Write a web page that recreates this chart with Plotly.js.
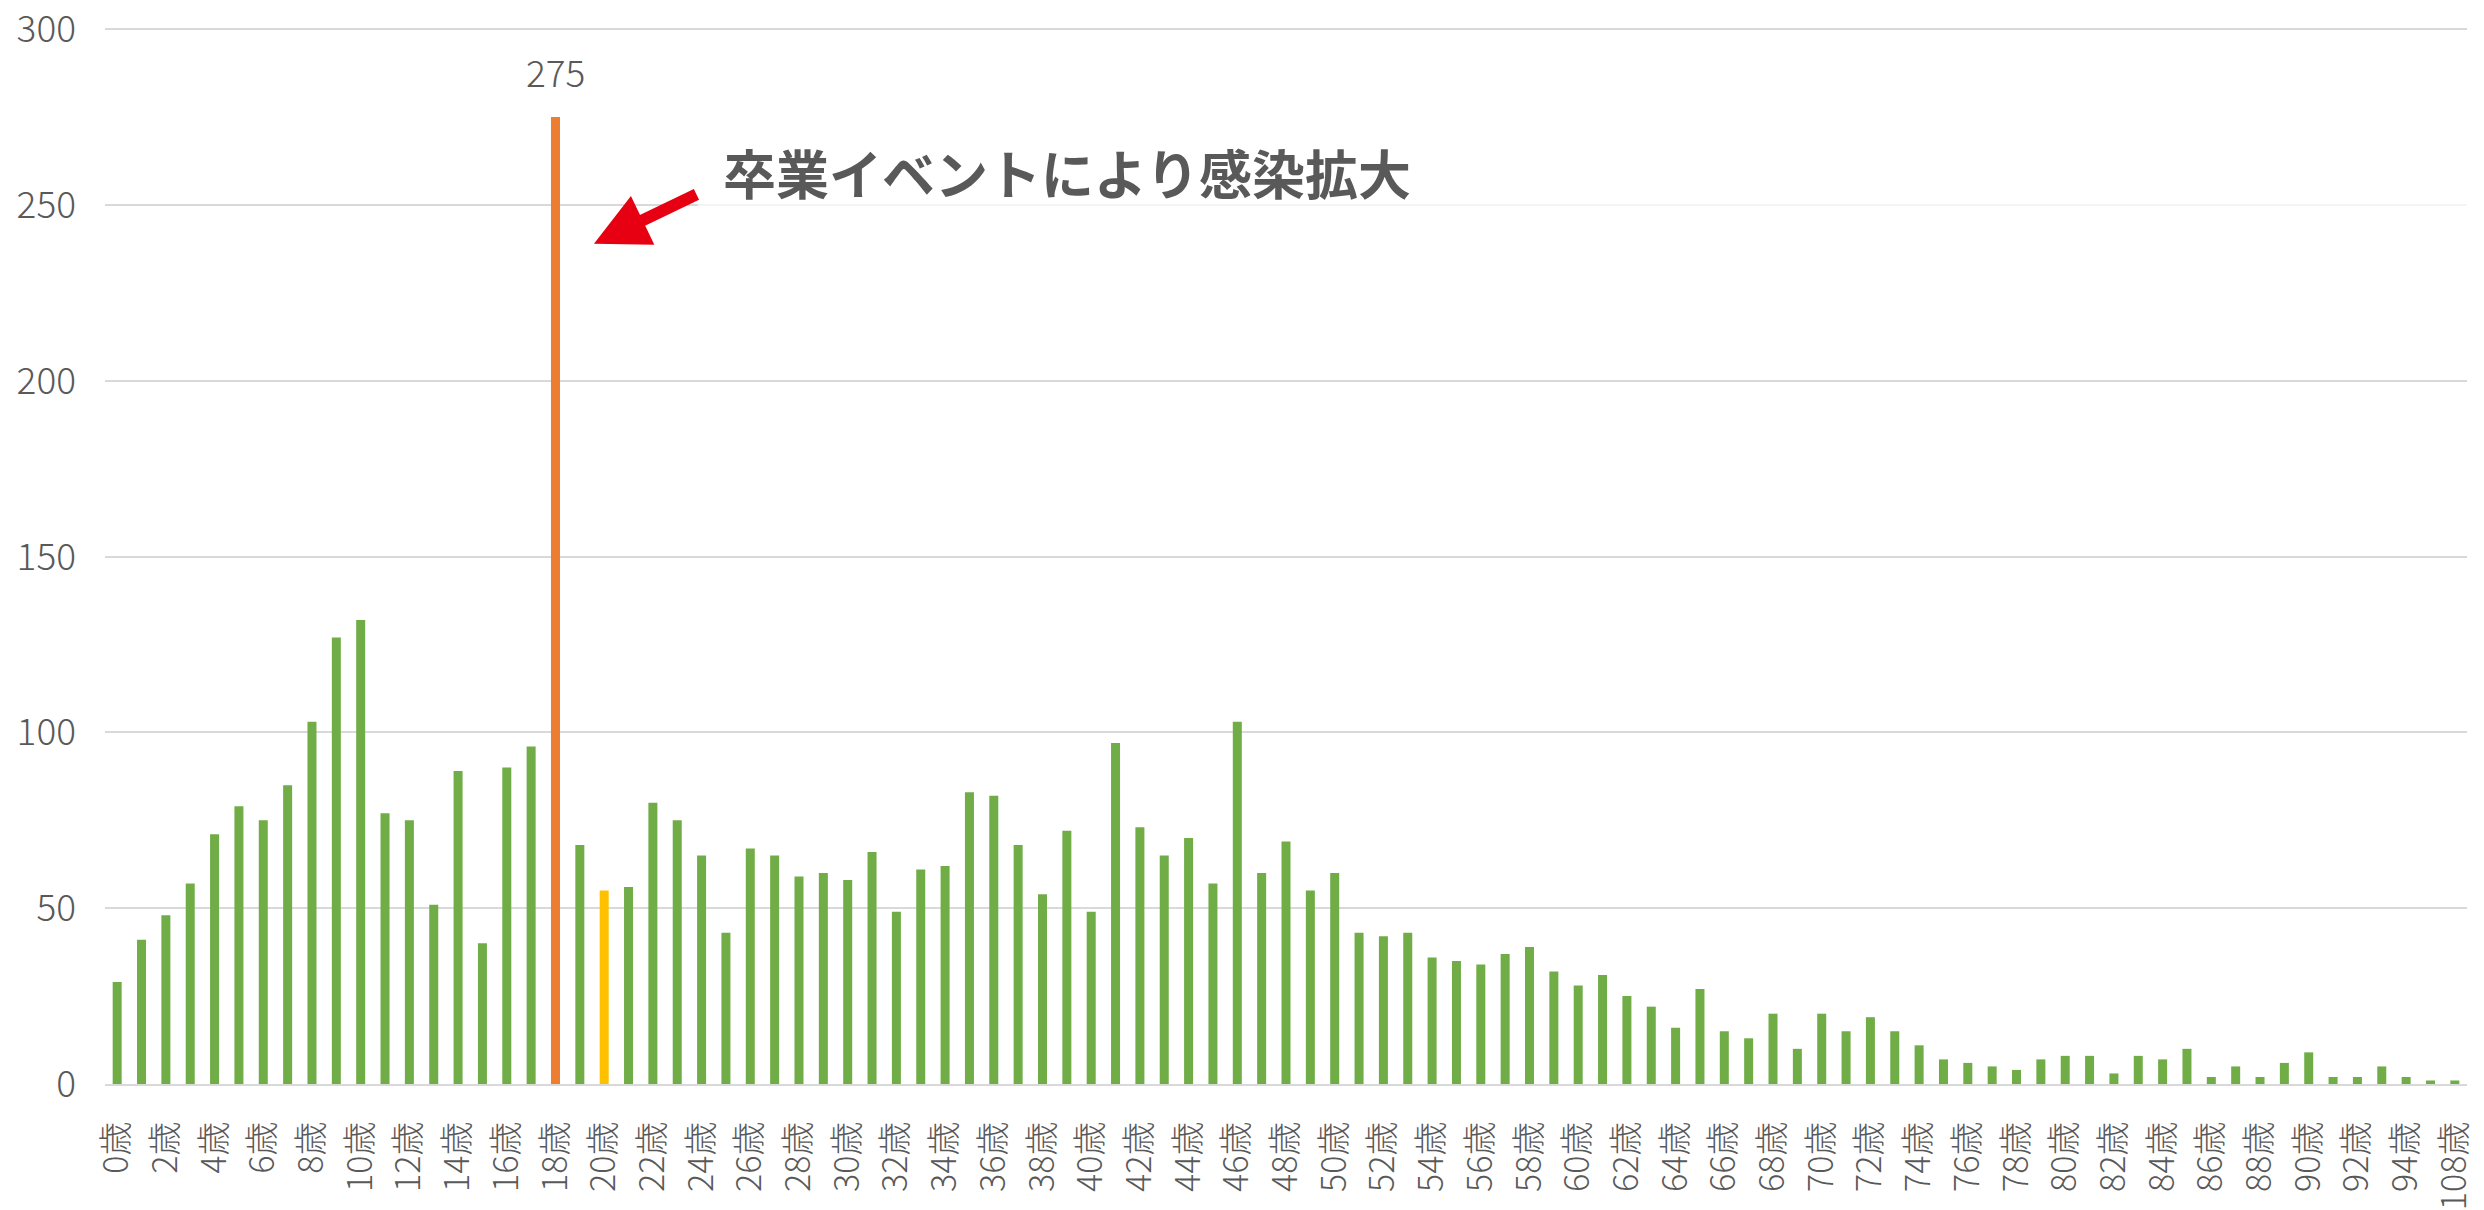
<!DOCTYPE html>
<html>
<head>
<meta charset="utf-8">
<script src="https://cdn.plot.ly/plotly-3.0.1.min.js"></script>
<style>html,body{margin:0;padding:0;background:#fff;}#chart{width:2484px;height:1210px;}</style>
</head>
<body>
<div id="chart"></div>
<script>
const ageLabels = ["0歳","1歳","2歳","3歳","4歳","5歳","6歳","7歳","8歳","9歳",
  "10歳","11歳","12歳","13歳","14歳","15歳","16歳","17歳","18歳","19歳",
  "20歳","21歳","22歳","23歳","24歳","25歳","26歳","27歳","28歳","29歳",
  "30歳","31歳","32歳","33歳","34歳","35歳","36歳","37歳","38歳","39歳",
  "40歳","41歳","42歳","43歳","44歳","45歳","46歳","47歳","48歳","49歳",
  "50歳","51歳","52歳","53歳","54歳","55歳","56歳","57歳","58歳","59歳",
  "60歳","61歳","62歳","63歳","64歳","65歳","66歳","67歳","68歳","69歳",
  "70歳","71歳","72歳","73歳","74歳","75歳","76歳","77歳","78歳","79歳",
  "80歳","81歳","82歳","83歳","84歳","85歳","86歳","87歳","88歳","89歳",
  "90歳","91歳","92歳","93歳","94歳","95歳","108歳"];

const caseCounts = [29,41,48,57,71,79,75,85,103,127,
  132,77,75,51,89,40,90,96,275,68,
  55,56,80,75,65,43,67,65,59,60,
  58,66,49,61,62,83,82,68,54,72,
  49,97,73,65,70,57,103,60,69,55,
  60,43,42,43,36,35,34,37,39,32,
  28,31,25,22,16,27,15,13,20,10,
  20,15,19,15,11,7,6,5,4,7,
  8,8,3,8,7,10,2,5,2,6,
  9,2,2,5,2,1,1];

const peakLabel = "18歳";
const peakNote = "275";
const highlightColors = {"18歳": "#ED7D31", "20歳": "#FFC000"};
const baseColor = "#70AD47";
const annotationText = "卒業イベントにより感染拡大";

const peakIndex = ageLabels.indexOf(peakLabel);
const barColors = ageLabels.map(a => highlightColors[a] || baseColor);

const fontFamily = "'Noto Sans CJK JP', 'Noto Sans', sans-serif";
const yTickFont = {family: fontFamily, size: 37, color: "#595959", weight: 300};
const xTickFont = {family: fontFamily, size: 34, color: "#595959", weight: 300};

const trace = {
  type: "bar",
  x: ageLabels,
  y: caseCounts,
  marker: {color: barColors, line: {width: 0}},
  hoverinfo: "x+y"
};

const layout = {
  width: 2484,
  height: 1210,
  margin: {l: 105, r: 17, t: 25, b: 126, pad: 0},
  paper_bgcolor: "#ffffff",
  plot_bgcolor: "#ffffff",
  showlegend: false,
  bargap: 0.63,
  font: yTickFont,
  xaxis: {
    type: "category",
    categoryorder: "array",
    categoryarray: ageLabels,
    range: [-0.5, ageLabels.length - 0.5],
    tickmode: "linear",
    tick0: 0,
    dtick: 2,
    tickangle: -90,
    ticks: "",
    ticklabelstandoff: 22,
    ticklabeloverflow: "allow",
    tickfont: xTickFont,
    showgrid: false,
    showline: true,
    linecolor: "#D9D9D9",
    linewidth: 2,
    zeroline: false,
    fixedrange: true
  },
  yaxis: {
    range: [0, 301.2],
    tickmode: "linear",
    tick0: 0,
    dtick: 50,
    ticks: "",
    ticklabelstandoff: 28,
    ticklabeloverflow: "allow",
    tickfont: yTickFont,
    showgrid: true,
    gridcolor: "#D9D9D9",
    gridwidth: 2,
    zeroline: false,
    showline: false,
    fixedrange: true
  },
  shapes: [{
    type: "rect",
    xref: "paper", yref: "y",
    x0: 0.251, x1: 1.0, y0: 248.8, y1: 251.2,
    fillcolor: "rgba(255,255,255,0.7)",
    line: {width: 0},
    layer: "above"
  }],
  annotations: [
    {
      x: peakIndex, y: caseCounts[peakIndex],
      xref: "x", yref: "y",
      text: peakNote,
      showarrow: false,
      yanchor: "bottom",
      yshift: 17,
      font: yTickFont
    },
    {
      x: 39.0, y: 259.4,
      xref: "x", yref: "y",
      text: annotationText,
      showarrow: false,
      font: {family: "'Noto Sans CJK JP', sans-serif", size: 53, color: "#595959", weight: "bold"}
    },
    {
      x: 19.58, y: 239,
      xref: "x", yref: "y",
      ax: 104, ay: -50,
      text: "",
      showarrow: true,
      arrowhead: 2,
      arrowsize: 0.9,
      arrowwidth: 12,
      arrowcolor: "#E60012"
    }
  ]
};

Plotly.newPlot("chart", [trace], layout, {staticPlot: true, displayModeBar: false});
</script>
</body>
</html>
